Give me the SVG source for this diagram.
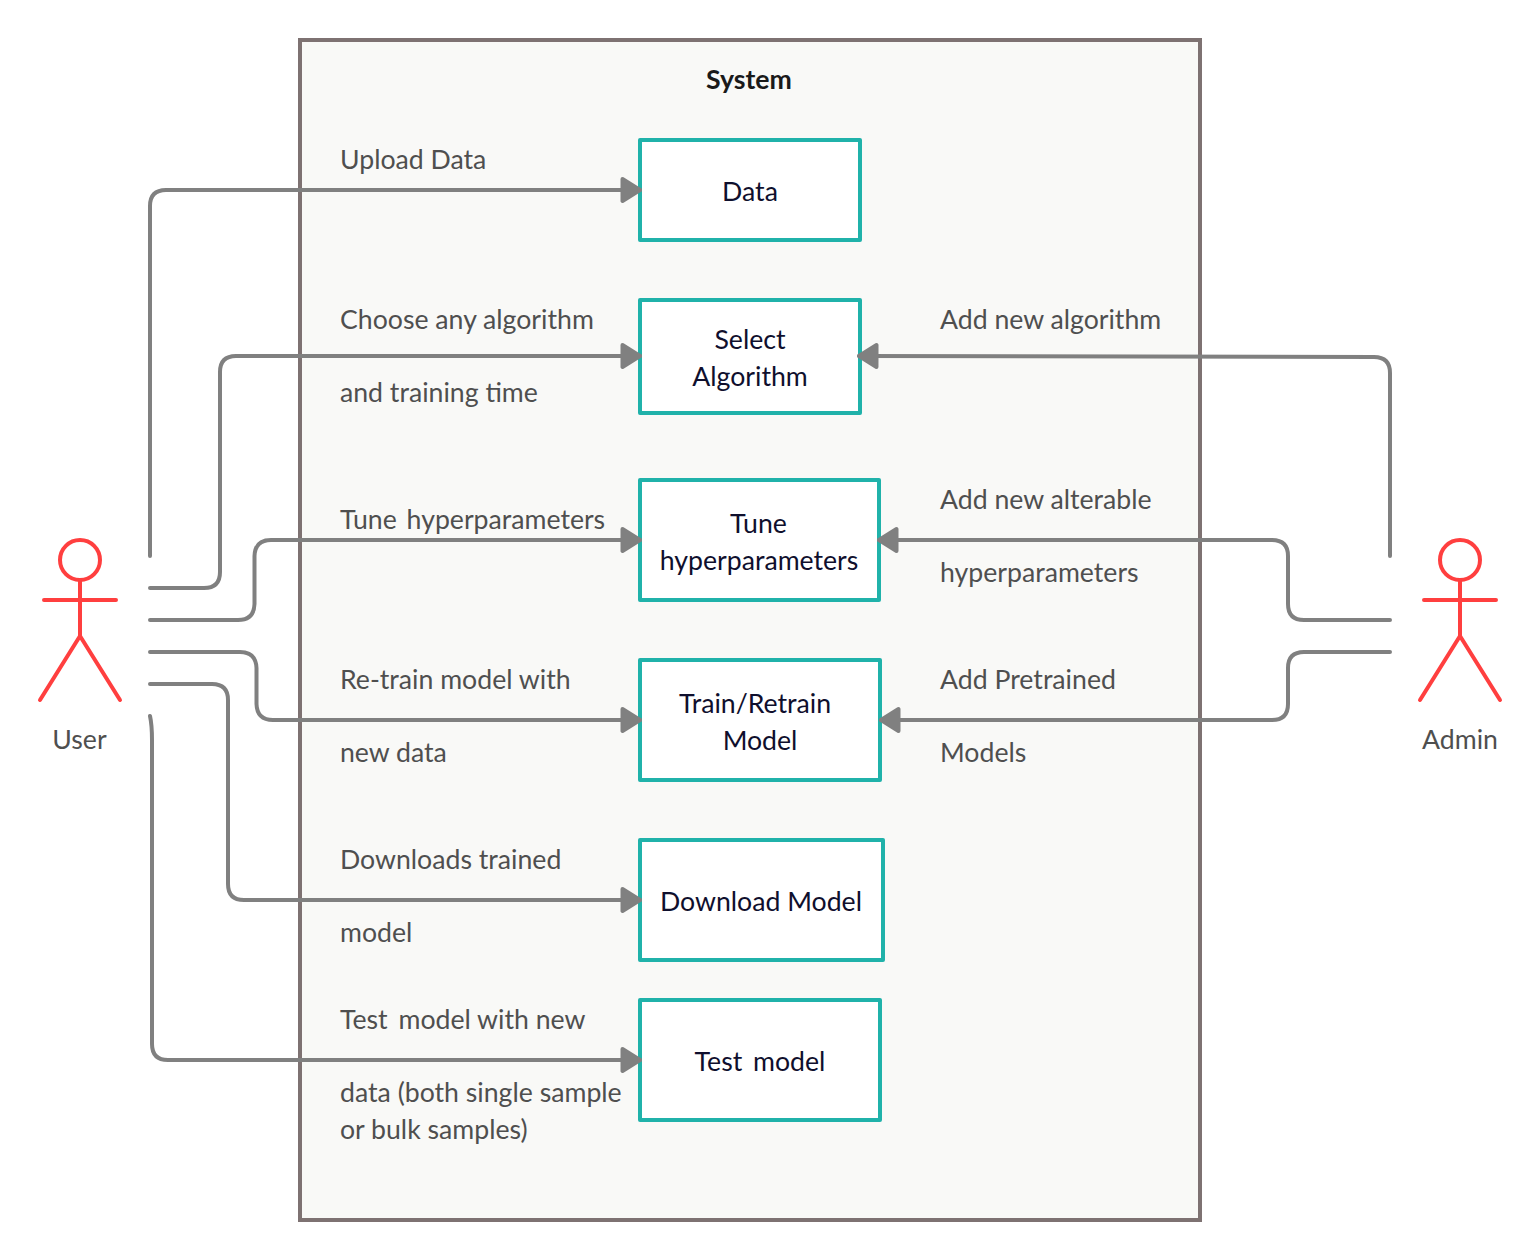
<svg xmlns="http://www.w3.org/2000/svg" width="1540" height="1260" viewBox="0 0 1540 1260">
<style>
text{font-family:Lato,"Open Sans","Liberation Sans",sans-serif;font-size:26.67px}
.lb{fill:#4f4f4f}
.nt{fill:#0f0f2d;text-anchor:middle}
.box{fill:#fff;stroke:#20b2aa;stroke-width:4;stroke-linejoin:round}
.act{fill:none;stroke:#ff3f3f;stroke-width:4;stroke-linecap:round;stroke-linejoin:round}
.con{fill:none;stroke:#808080;stroke-width:4;stroke-linecap:round}
.arr{fill:#808080;stroke:#808080;stroke-width:4;stroke-linejoin:round}
</style>
<defs>
<marker id="ah" markerUnits="userSpaceOnUse" markerWidth="30" markerHeight="34" refX="20" refY="17" orient="auto">
<path class="arr" d="M2.500 6L20 17L2.500 28Z"/>
</marker>
</defs>
<rect width="1540" height="1260" fill="#fff"/>
<g id="system">
<rect x="300" y="40" width="900" height="1180" fill="#f9f9f7" stroke="#7e7272" stroke-width="4"/>
<text x="749" y="89" text-anchor="middle" font-weight="700" style="fill:#1a1a1a">System</text>
</g>
<g id="user">
<circle class="act" cx="80" cy="560" r="20"/>
<path class="act" d="M80 580V636M44 600H116M40 700L80 636L120 700"/>
<text class="lb" x="79.500" y="749" text-anchor="middle">User</text>
</g>
<g id="admin">
<circle class="act" cx="1460" cy="560" r="20"/>
<path class="act" d="M1460 580V636M1424 600H1496M1420 700L1460 636L1500 700"/>
<text class="lb" x="1460" y="749" text-anchor="middle">Admin</text>
</g>
<g id="n-data">
<rect class="box" x="640" y="140" width="220" height="100"/>
<text class="nt" x="750" y="201">Data</text>
</g>
<g id="n-select">
<rect class="box" x="640" y="300" width="220" height="113"/>
<text class="nt" x="750" y="349">Select</text>
<text class="nt" x="750" y="386">Algorithm</text>
</g>
<g id="n-tune">
<rect class="box" x="640" y="480" width="239" height="120"/>
<text class="nt" x="758.500" y="533">Tune</text>
<text class="nt" x="759" y="570">hyperparameters</text>
</g>
<g id="n-train">
<rect class="box" x="640" y="660" width="240" height="120"/>
<text class="nt" x="755" y="713">Train/Retrain</text>
<text class="nt" x="760" y="750">Model</text>
</g>
<g id="n-download">
<rect class="box" x="640" y="840" width="243" height="120"/>
<text class="nt" x="761" y="911">Download Model</text>
</g>
<g id="n-test">
<rect class="box" x="640" y="1000" width="240" height="120"/>
<text class="nt" x="760" y="1071">Test <tspan dx="4">model</tspan></text>
</g>
<g id="labels">
<text class="lb" x="340" y="169">Upload Data</text>
<text class="lb" x="340" y="329">Choose any algorithm</text>
<text class="lb" x="340" y="402">and training time</text>
<text class="lb" x="340" y="529">Tune <tspan dx="3">hyperparameters</tspan></text>
<text class="lb" x="340" y="689">Re-train model with</text>
<text class="lb" x="340" y="762">new data</text>
<text class="lb" x="340" y="869">Downloads trained</text>
<text class="lb" x="340" y="942">model</text>
<text class="lb" x="340" y="1029">Test <tspan dx="4">model with new</tspan></text>
<text class="lb" x="340" y="1102">data (both single sample</text>
<text class="lb" x="340" y="1139">or bulk samples)</text>
<text class="lb" x="940" y="329">Add new algorithm</text>
<text class="lb" x="940" y="509">Add new alterable</text>
<text class="lb" x="940" y="582">hyperparameters</text>
<text class="lb" x="940" y="689">Add Pretrained</text>
<text class="lb" x="940" y="762">Models</text>
</g>
<g id="connectors">
<path class="con" marker-end="url(#ah)" d="M150 556V206Q150 190 166 190H640"/>
<path class="con" marker-end="url(#ah)" d="M150 588H204Q220 588 220 572V372Q220 356 236 356H640"/>
<path class="con" marker-end="url(#ah)" d="M150 620H238Q254 620 254.500 604V556Q255 540 271 540H640"/>
<path class="con" marker-end="url(#ah)" d="M150 652H240Q256 652 256.500 668V704Q257 720 273 720H640"/>
<path class="con" marker-end="url(#ah)" d="M150 684H212Q228 684 228 700V884Q228 900 244 900H640"/>
<path class="con" marker-end="url(#ah)" d="M150 716Q152 725 152 740V1044Q152 1060 168 1060H640"/>
<path class="con" marker-end="url(#ah)" d="M1390 556V373Q1390 357 1374 357L859 356"/>
<path class="con" marker-end="url(#ah)" d="M1390 620H1304Q1288 620 1288 604V556Q1288 540 1272 540H879"/>
<path class="con" marker-end="url(#ah)" d="M1390 652H1304Q1288 652 1288 668V704Q1288 720 1272 720H881"/>
</g>
</svg>
